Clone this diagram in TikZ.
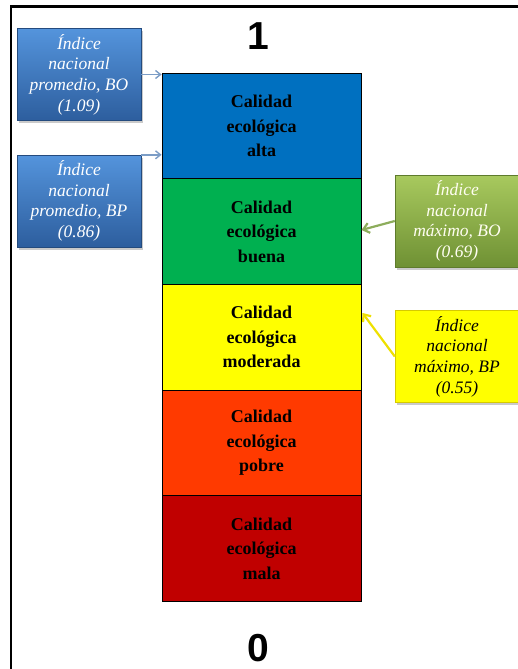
\documentclass[tikz,border=0pt]{standalone}
\usepackage{fontspec}
\setmainfont{Liberation Serif}
\newfontfamily\digitfont{Liberation Sans}
\usetikzlibrary{arrows.meta,shadows}

\definecolor{qblue}{HTML}{0070C0}
\definecolor{qgreen}{HTML}{00B050}
\definecolor{qyellow}{HTML}{FFFF00}
\definecolor{qorange}{HTML}{FF3A00}
\definecolor{qred}{HTML}{C00000}
\definecolor{boxbluetop}{HTML}{5494DC}
\definecolor{boxbluebot}{HTML}{2D5E9E}
\definecolor{boxgreentop}{HTML}{A8C95E}
\definecolor{boxgreenbot}{HTML}{6F9134}
\definecolor{arrblue}{HTML}{7C9DC6}
\definecolor{arrgreen}{HTML}{8DAD5C}
\definecolor{arryellow}{HTML}{EEE000}

\tikzset{
  band/.style={draw=black, line width=0.8pt, minimum width=199pt, minimum height=105.6pt,
    inner sep=0pt, align=center, font=\fontsize{18}{24.5}\selectfont\bfseries},
  callout/.style={minimum width=124pt, minimum height=92pt, inner sep=0pt, align=center,
    font=\fontsize{17.5}{20.7}\selectfont\itshape,
    drop shadow={shadow xshift=2pt, shadow yshift=-2.5pt, opacity=0.35, fill=black!60}},
  bluebox/.style={callout, text=white, shading=axis, top color=boxbluetop, bottom color=boxbluebot,
    draw=boxbluebot!80!black, line width=0.4pt},
  greenbox/.style={callout, text=white!95!yellow, shading=axis, top color=boxgreentop,
    bottom color=boxgreenbot, draw=boxgreenbot!85!black, line width=0.4pt},
  yellowbox/.style={callout, text=black, fill=qyellow, draw=arryellow!90!black, line width=0.4pt},
  pointer/.style={-{Straight Barb[length=6pt,width=10pt]}, line width=2.2pt},
  endlabel/.style={font=\digitfont\fontsize{39}{39}\selectfont\bfseries, inner sep=0pt}
}

\begin{document}
\begin{tikzpicture}[x=1pt, y=-1pt]
  \useasboundingbox (0,0) rectangle (518,669);
  % page frame (only the top and left edges fall inside the picture)
  \draw[line width=2.2pt] (11,669) -- (11,6.5) -- (518,6.5);

  % scale ends
  \node[endlabel] (one) at (258,36) {1};
  \node[endlabel] (zero) at (258,648) {0};

  % ecological quality bands
  \node[band, fill=qblue]   (alta)     at (261.5,126.0) {Calidad\\ecológica\\alta};
  \node[band, fill=qgreen]  (buena)    at (261.5,231.6) {Calidad\\ecológica\\buena};
  \node[band, fill=qyellow] (moderada) at (261.5,337.2) {Calidad\\ecológica\\moderada};
  \node[band, fill=qorange] (pobre)    at (261.5,442.8) {Calidad\\ecológica\\pobre};
  \node[band, fill=qred]    (mala)     at (261.5,548.4) {Calidad\\ecológica\\mala};

  % national index call-outs
  \node[bluebox]   (bo)  at (79,74.5)   {Índice\\nacional\\promedio, BO\\(1.09)};
  \node[bluebox]   (bp)  at (79,201)    {Índice\\nacional\\promedio, BP\\(0.86)};
  \node[greenbox]  (mbo) at (457,221)   {Índice\\nacional\\máximo, BO\\(0.69)};
  \node[yellowbox] (mbp) at (457,356.5) {Índice\\nacional\\máximo, BP\\(0.55)};

  \coordinate (tbo) at (361.5,230);
  \coordinate (tbp) at (362.5,313);

  \draw[pointer, arrblue, line width=1.4pt, -{Straight Barb[length=5pt,width=8pt]}]
    (bo.east) -- (bo.east -| alta.west);
  \draw[pointer, arrblue, line width=1.4pt, -{Straight Barb[length=5pt,width=8pt]}]
    (bp.north east) -- (bp.north east -| alta.west);
  \draw[pointer, arrgreen] (mbo.west) -- (tbo);
  \draw[pointer, arryellow] (mbp.west) -- (tbp);
\end{tikzpicture}
\end{document}
